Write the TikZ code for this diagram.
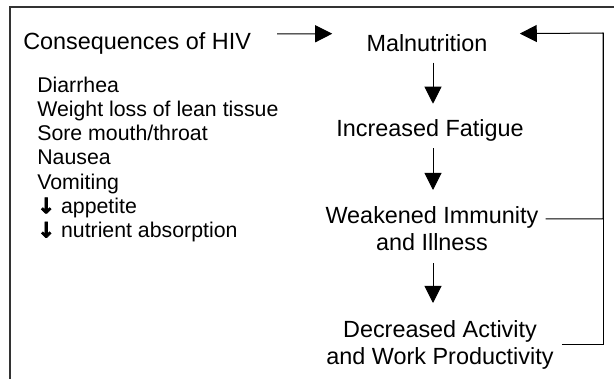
\documentclass[tikz,border=0pt]{standalone}
\usepackage{fontspec}
\setmainfont{Liberation Sans}
\newfontfamily\arrowfont[FakeBold=3]{DejaVu Sans Bold}
\usetikzlibrary{arrows.meta}

\begin{document}
\begin{tikzpicture}[x=1pt, y=1pt, semithick]
  \tikzstyle{stage} = [inner sep=0pt, align=center, font={\fontsize{23.4}{27.5}\selectfont}]
  \tikzstyle{effectList} = [inner sep=0pt, align=left, font={\fontsize{21.3}{24.2}\selectfont}]
  \tikzstyle{stageEdgePortion} = [black, line width=1pt]
  \tikzstyle{stageEdge} = [stageEdgePortion, -{Triangle[length=17pt, width=17pt]}]
  \tikzstyle{pageFrame} = [black!80, line width=2pt]

  \useasboundingbox (0,0) rectangle (614,-379);
  \draw[pageFrame] (10,-379) -- (10,-7) -- (614,-7);

  \coordinate (axis) at (433,0);
  \coordinate (loop) at (603,-33);

  \node[stage, anchor=base west](cons) at (23,-50) {Consequences of HIV};
  \node[stage, anchor=base](malnut) at (427,-52) {Malnutrition};
  \node[stage, anchor=base](fatigue) at (430,-137) {Increased Fatigue};
  \node[stage, anchor=north](weak) at (432,-206) {Weakened Immunity\\and Illness};
  \node[stage, anchor=north](decr) at (440,-320) {Decreased Activity\\and Work Productivity};
  \node[effectList, anchor=north west](effects) at (37,-76.5) {Diarrhea\\Weight loss of lean tissue\\Sore mouth/throat\\Nausea\\Vomiting\\{\arrowfont ↓} appetite\\{\arrowfont ↓} nutrient absorption};

  \draw[stageEdge, shorten <=26pt, shorten >=34pt] ([yshift=10pt]cons.east) -- ([yshift=10pt]malnut.west);
  \draw[stageEdge, shorten <=10pt, shorten >=16pt] (malnut.south -| axis) -- (fatigue.north -| axis);
  \draw[stageEdge, shorten <=6pt, shorten >=16pt] (fatigue.south -| axis) -- (weak.north -| axis);
  \draw[stageEdge, shorten <=12pt, shorten >=17pt] (weak.south -| axis) -- (decr.north -| axis);

  % feedback loop
  \draw[stageEdge] ([shift={(7pt,-13pt)}]weak.north east) -| (loop) -- ([shift={(32pt,10pt)}]malnut.east);
  \draw[stageEdgePortion] ([xshift=8pt]decr.east) -| (loop);
\end{tikzpicture}
\end{document}
